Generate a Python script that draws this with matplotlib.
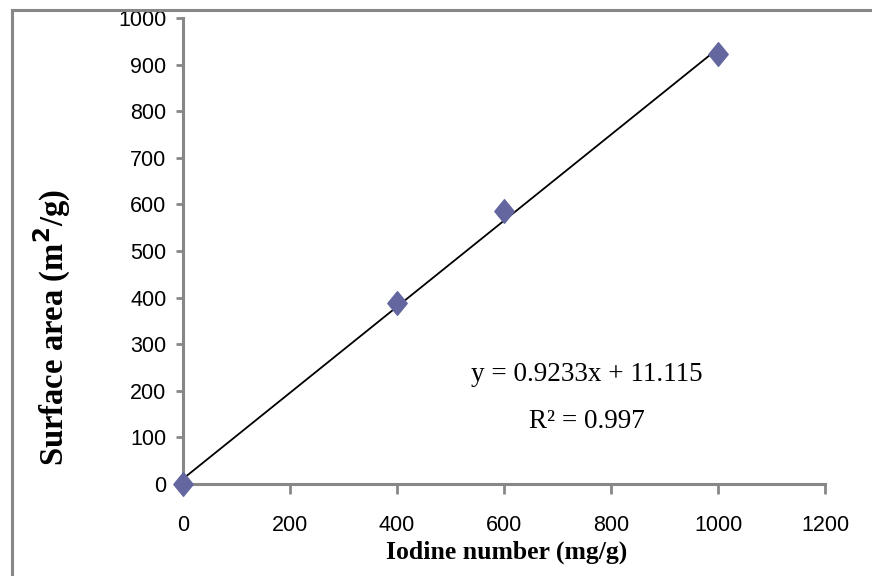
import numpy as np
import matplotlib
matplotlib.use("Agg")
import matplotlib.pyplot as plt
from matplotlib.lines import Line2D
from matplotlib.path import Path

# data
iodine = [0, 400, 600, 1000]
surface = [0, 388, 586, 922]
slope, intercept = 0.9233, 11.115
r2 = 0.997
xticks = [0, 200, 400, 600, 800, 1000, 1200]
yticks = list(range(0, 1001, 100))

tick_font = ['Liberation Sans', 'DejaVu Sans']
serif_font = ['Liberation Serif', 'DejaVu Serif']
grey = '#878787'

fig = plt.figure(figsize=(8.72, 5.76), dpi=100)
ax = fig.add_axes([183/872, 1 - 484/576, (825 - 183)/872, (484 - 18)/576])

# trend line
xl = np.array([0, 1000])
ax.plot(xl, slope * xl + intercept, color='black', lw=1.3, zorder=2)

diamond = Path([(0, 1), (0.82, 0), (0, -1), (-0.82, 0), (0, 1)],
               [Path.MOVETO, Path.LINETO, Path.LINETO, Path.LINETO, Path.CLOSEPOLY])
ax.plot(iodine, surface, linestyle='none', marker=diamond, ms=17,
        color='#6466a0', mec='#6466a0', zorder=3, clip_on=False)

ax.set_xlim(0, 1200)
ax.set_ylim(0, 1000)
ax.set_xticks(xticks)
ax.set_yticks(yticks)
ax.set_xticklabels([str(v) for v in xticks], family=tick_font, fontsize=15.5)
ax.set_yticklabels([str(v) for v in yticks], family=tick_font, fontsize=15.5)

for s in ['top', 'right']:
    ax.spines[s].set_visible(False)
for s in ['left', 'bottom']:
    ax.spines[s].set_color(grey)
    ax.spines[s].set_linewidth(2.2)
ax.tick_params(axis='y', direction='out', length=5, width=2, color=grey, pad=7)
ax.tick_params(axis='x', direction='out', length=7, width=2, color=grey, pad=15)

ax.text(755, 236, 'y = 0.9233x + 11.115', family=serif_font, fontsize=19.5,
        ha='center', va='center')
ax.text(755, 135, 'R² = %.3f' % r2, family=serif_font, fontsize=19.5,
        ha='center', va='center')

fig.text(507/872, 1 - 552/576, 'Iodine number (mg/g)', family=serif_font,
         fontweight='bold', fontsize=18.5, ha='center', va='center')
fig.text(52/872, 1 - 328/576, 'Surface area (m$^{\\mathbf{2}}$/g)', family=serif_font,
         fontweight='bold', fontsize=23.5, ha='center', va='center', rotation=90)

# outer frame (left and top only visible)
fig.add_artist(Line2D([12/872, 12/872], [0, 1 - 10/576], color=grey, lw=2.2))
fig.add_artist(Line2D([12/872, 1], [1 - 10/576, 1 - 10/576], color=grey, lw=2.2))

fig.savefig('out.png', dpi=100)
